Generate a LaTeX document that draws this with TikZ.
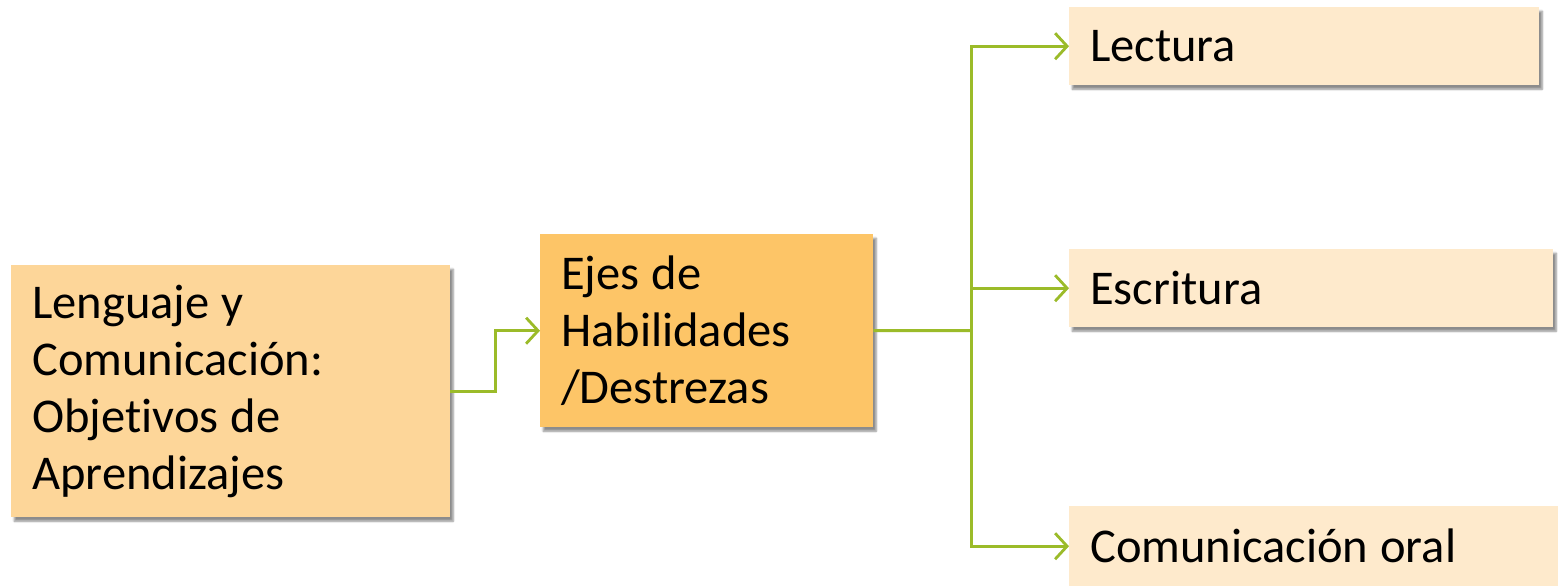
\documentclass[tikz,border=0pt]{standalone}
\usepackage{fontspec}
\setmainfont{Carlito}[Ligatures={NoCommon}]
\usetikzlibrary{arrows.meta,shadows.blur}
\definecolor{boxA}{HTML}{FDD699}
\definecolor{boxB}{HTML}{FDC567}
\definecolor{boxC}{HTML}{FEEACC}
\definecolor{lnk}{HTML}{9BBB29}
\tikzset{
  box/.style={rectangle, anchor=north west, inner xsep=21pt, inner ysep=0pt,
    blur shadow={shadow xshift=3pt, shadow yshift=-4pt, shadow blur steps=6, shadow opacity=45},
    font=\fontsize{48.5}{57}\selectfont, align=left,
    execute at begin node={\spaceskip=12pt\relax}},
  link/.style={draw=lnk, line width=3pt, -{Straight Barb[length=12pt,width=26pt,line width=2.8pt]}},
  plain/.style={draw=lnk, line width=3pt}
}
\begin{document}
\begin{tikzpicture}[x=1pt,y=1pt]
\useasboundingbox (0,0) rectangle (1558,-586);
\node[box, fill=boxA, minimum width=439pt, minimum height=252pt, text width=397pt] (obj) at (11,-265) {Lenguaje y\\Comunicación:\\Objetivos de\\Aprendizajes};
\node[box, fill=boxB, minimum width=333pt, minimum height=193pt, text width=291pt, inner xsep=20pt] (ejes) at (540,-234) {Ejes de\\Habilidades\\/Destrezas};
\node[box, fill=boxC, minimum width=470pt, minimum height=78pt, text width=428pt] (lec) at (1069,-7) {Lectura};
\node[box, fill=boxC, minimum width=484pt, minimum height=78pt, text width=442pt] (esc) at (1069,-249) {Escritura};
\node[box, fill=boxC, minimum width=495pt, minimum height=80pt, text width=453pt] (com) at (1069,-506) {Comunicación oral};
\coordinate (j) at (971,-330.5);
\draw[link] (obj.east) -- ++(45,0) |- (ejes.west);
\draw[plain] (ejes.east) -- (j);
\draw[link] (j) |- (lec.west);
\draw[link] (j) |- (esc.west);
\draw[link] (j) |- (com.west);
\end{tikzpicture}
\end{document}
